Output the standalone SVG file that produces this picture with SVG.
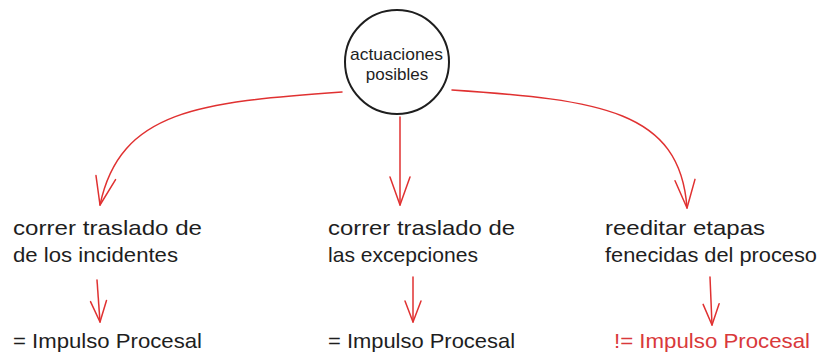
<svg xmlns="http://www.w3.org/2000/svg" width="820" height="355" viewBox="0 0 820 355">
<defs>
<style>
.t{font-family:"Liberation Sans","DejaVu Sans",sans-serif;font-size:21px;fill:#1e1e1e}
.c{font-family:"Liberation Sans","DejaVu Sans",sans-serif;font-size:17px;fill:#1e1e1e}
.red{fill:#d9393b}
.conn{fill:none;stroke:#e03131;stroke-width:1.5;stroke-linecap:round;stroke-linejoin:round}
</style>
<marker id="big" markerUnits="userSpaceOnUse" viewBox="-32 -14 36 28" markerWidth="36" markerHeight="28" refX="0" refY="0" orient="auto" overflow="visible">
<path d="M-28,-10 L0,0 L-28,10" fill="none" stroke="#e03131" stroke-width="1.5" stroke-linecap="round" stroke-linejoin="round"/>
</marker>
<marker id="small" markerUnits="userSpaceOnUse" viewBox="-24 -12 28 24" markerWidth="28" markerHeight="24" refX="0" refY="0" orient="auto" overflow="visible">
<path d="M-21,-8 L0,0 L-21,8" fill="none" stroke="#e03131" stroke-width="1.5" stroke-linecap="round" stroke-linejoin="round"/>
</marker>
</defs>
<rect width="820" height="355" fill="#ffffff"/>
<g id="connectors">
<path class="conn" d="M342,92 C200,102 120,110 100,205" marker-end="url(#big)"/>
<path class="conn" d="M400,117 L400,205" marker-end="url(#big)"/>
<path class="conn" d="M452,90 C600,100 680,110 687,208" marker-end="url(#big)"/>
<path class="conn" d="M97,280 L100,322" marker-end="url(#small)"/>
<path class="conn" d="M413,277 L413,322" marker-end="url(#small)"/>
<path class="conn" d="M710,277 L712,325" marker-end="url(#small)"/>
</g>
<g id="node-actuaciones">
<ellipse cx="397" cy="62" rx="52" ry="52" fill="none" stroke="#1e1e1e" stroke-width="2"/>
<text class="c" x="350" y="60" textLength="93" lengthAdjust="spacingAndGlyphs">actuaciones</text>
<text class="c" x="397" y="80" text-anchor="middle">posibles</text>
</g>
<g id="node-incidentes">
<text class="t" x="13" y="235" textLength="189" lengthAdjust="spacingAndGlyphs">correr traslado de</text>
<text class="t" x="13" y="262" textLength="165" lengthAdjust="spacingAndGlyphs">de los incidentes</text>
</g>
<g id="node-excepciones">
<text class="t" x="328" y="235" textLength="187" lengthAdjust="spacingAndGlyphs">correr traslado de</text>
<text class="t" x="328" y="262" textLength="150" lengthAdjust="spacingAndGlyphs">las excepciones</text>
</g>
<g id="node-reeditar">
<text class="t" x="605" y="235" textLength="160" lengthAdjust="spacingAndGlyphs">reeditar etapas</text>
<text class="t" x="605" y="262" textLength="212" lengthAdjust="spacingAndGlyphs">fenecidas del proceso</text>
</g>
<g id="node-impulso-1">
<text class="t" x="13" y="348" textLength="189" lengthAdjust="spacingAndGlyphs">= Impulso Procesal</text>
</g>
<g id="node-impulso-2">
<text class="t" x="328" y="348" textLength="187" lengthAdjust="spacingAndGlyphs">= Impulso Procesal</text>
</g>
<g id="node-impulso-3">
<text class="t red" x="614" y="348" textLength="196" lengthAdjust="spacingAndGlyphs">!= Impulso Procesal</text>
</g>
</svg>
